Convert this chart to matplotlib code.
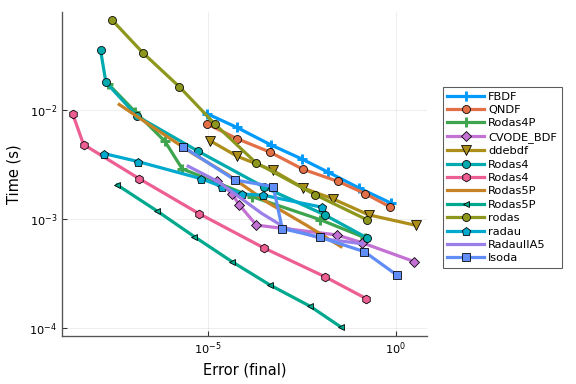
import matplotlib
matplotlib.use("Agg")
import matplotlib.pyplot as plt
import matplotlib.ticker as mticker
import numpy as np

# work-precision data
names = ["FBDF", "QNDF", "Rodas4P", "CVODE_BDF", "ddebdf", "Rodas4", "Rodas4",
         "Rodas5P", "Rodas5P", "rodas", "radau", "RadauIIA5", "lsoda"]

err_fbdf = [9.23e-6, 5.79e-5, 4.66e-4, 3.10e-3, 1.58e-2, 0.104, 0.723]
time_fbdf = [9.25e-3, 6.92e-3, 4.78e-3, 3.55e-3, 2.68e-3, 1.92e-3, 1.40e-3]

err_qndf = [9.23e-6, 5.79e-5, 4.46e-4, 3.37e-3, 2.86e-2, 0.150, 0.692]
time_qndf = [7.48e-3, 5.46e-3, 4.10e-3, 2.85e-3, 2.21e-3, 1.71e-3, 1.29e-3]

err_rodas4p = [2.19e-8, 1.15e-7, 7.18e-7, 2.07e-6, 1.48e-4, 9.53e-3, 0.150]
time_rodas4p = [1.74e-2, 9.64e-3, 5.15e-3, 2.88e-3, 1.60e-3, 9.86e-4, 6.73e-4]

err_cvode = [1.79e-5, 4.35e-5, 6.89e-5, 1.95e-4, 2.70e-2, 0.122, 3.07]
time_cvode = [2.24e-3, 1.71e-3, 1.34e-3, 8.77e-4, 7.13e-4, 6.07e-4, 4.06e-4]

err_ddebdf = [1.13e-5, 6.01e-5, 5.26e-4, 3.43e-3, 2.07e-2, 0.188, 3.40]
time_ddebdf = [5.22e-3, 3.75e-3, 2.79e-3, 1.92e-3, 1.53e-3, 1.09e-3, 8.73e-4]

err_rodas4a = [1.40e-8, 1.94e-8, 1.32e-7, 5.52e-6, 3.08e-4, 1.27e-2, 0.166]
time_rodas4a = [3.52e-2, 1.79e-2, 8.73e-3, 4.17e-3, 1.96e-3, 1.09e-3, 6.73e-4]

err_rodas4b = [2.52e-9, 4.94e-9, 1.49e-7, 5.77e-6, 3.08e-4, 1.27e-2, 0.162]
time_rodas4b = [9.25e-3, 4.81e-3, 2.34e-3, 1.12e-3, 5.42e-4, 2.96e-4, 1.86e-4]

err_rodas5pa = [4.38e-8, 4.33e-7, 3.99e-6, 3.40e-5, 3.94e-4, 4.30e-3, 3.44e-2]
time_rodas5pa = [1.12e-2, 6.59e-3, 3.97e-3, 2.55e-3, 1.41e-3, 8.69e-4, 5.57e-4]

err_rodas5pb = [3.87e-8, 4.33e-7, 4.33e-6, 4.35e-5, 4.46e-4, 5.26e-3, 3.44e-2]
time_rodas5pb = [2.05e-3, 1.19e-3, 6.89e-4, 4.06e-4, 2.48e-4, 1.58e-4, 1.02e-4]

err_rodas = [2.85e-8, 1.87e-7, 1.73e-6, 1.53e-5, 1.86e-4, 7.02e-3, 0.166]
time_rodas = [6.64e-2, 3.33e-2, 1.63e-2, 7.41e-3, 3.29e-3, 1.67e-3, 9.86e-4]

err_radau = [1.75e-8, 1.37e-7, 6.52e-6, 2.36e-5, 8.28e-5, 2.96e-4, 1.08e-2]
time_radau = [3.97e-3, 3.36e-3, 2.34e-3, 1.98e-3, 1.69e-3, 1.65e-3, 1.28e-3]

err_radauiia5 = [2.99e-6, 1.85e-5, 7.10e-5, 2.73e-4, 1.12e-3, 1.08e-2, 0.125]
time_radauiia5 = [3.04e-3, 2.20e-3, 1.57e-3, 1.12e-3, 8.32e-4, 6.59e-4, 5.93e-4]

err_lsoda = [2.20e-6, 5.32e-5, 5.46e-4, 9.46e-4, 9.71e-3, 0.144, 1.08]
time_lsoda = [4.58e-3, 2.27e-3, 1.98e-3, 8.15e-4, 6.78e-4, 5.01e-4, 3.04e-4]

errs = [err_fbdf, err_qndf, err_rodas4p, err_cvode, err_ddebdf, err_rodas4a, err_rodas4b,
        err_rodas5pa, err_rodas5pb, err_rodas, err_radau, err_radauiia5, err_lsoda]
times = [time_fbdf, time_qndf, time_rodas4p, time_cvode, time_ddebdf, time_rodas4a, time_rodas4b,
         time_rodas5pa, time_rodas5pb, time_rodas, time_radau, time_radauiia5, time_lsoda]

# Plots.jl default palette
colors = ["#009AFA", "#E36F47", "#3EA44E", "#C371D2", "#AC8E18", "#00AAAE", "#ED5E93",
          "#C68225", "#00A98D", "#8E971D", "#00A9CD", "#9B7FE9", "#618DF6"]
markers = ["P", "o", "P", "D", "v", "o", "h", None, "<", "o", "p", None, "s"]
msizes = [7, 6, 7, 5, 7, 6, 6.5, 0, 4, 6, 6.5, 0, 6.5]

fig = plt.figure(figsize=(6, 4), dpi=96)
ax = fig.add_axes([0.1076, 0.125, 0.741 - 0.1076, 0.969 - 0.125])

for i in range(len(names)):
    if markers[i] == "P":
        # thin plus marker in line colour
        ax.plot(errs[i], times[i], color=colors[i], lw=2.4, marker="+",
                ms=msizes[i], mew=2.2, label=names[i])
    elif markers[i] is None:
        ax.plot(errs[i], times[i], color=colors[i], lw=2.4, label=names[i])
    else:
        ax.plot(errs[i], times[i], color=colors[i], lw=2.4, marker=markers[i],
                ms=msizes[i], mec="black", mew=0.6, label=names[i])

ax.set_xscale("log")
ax.set_yscale("log")
ax.set_xlim(1.32e-9, 6.6)
ax.set_ylim(8.45e-5, 7.9e-2)
ax.xaxis.set_major_locator(mticker.FixedLocator([1e-5, 1e0]))
ax.yaxis.set_major_locator(mticker.FixedLocator([1e-4, 1e-3, 1e-2]))
ax.xaxis.set_minor_locator(mticker.NullLocator())
ax.yaxis.set_minor_locator(mticker.NullLocator())
ax.tick_params(direction="in", labelsize=8.5, length=4, width=0.8, colors="#333333")
ax.tick_params(labelcolor="black")

ax.spines["top"].set_visible(False)
ax.spines["right"].set_visible(False)
for s in ["left", "bottom"]:
    ax.spines[s].set_color("#555555")
    ax.spines[s].set_linewidth(1.0)

ax.grid(True, color="#000000", alpha=0.1, lw=0.5)
ax.set_axisbelow(True)

ax.set_xlabel("Error (final)", fontsize=11)
ax.set_ylabel("Time (s)", fontsize=11, labelpad=6)

leg = ax.legend(loc="upper left", bbox_to_anchor=(1.044, 0.768), fontsize=8.5,
                frameon=True, fancybox=False, edgecolor="#333333", borderaxespad=0,
                handlelength=3.2, labelspacing=0.3, borderpad=0.4, handletextpad=0.4)
leg.get_frame().set_linewidth(0.8)

fig.savefig("out.png", dpi=96)
